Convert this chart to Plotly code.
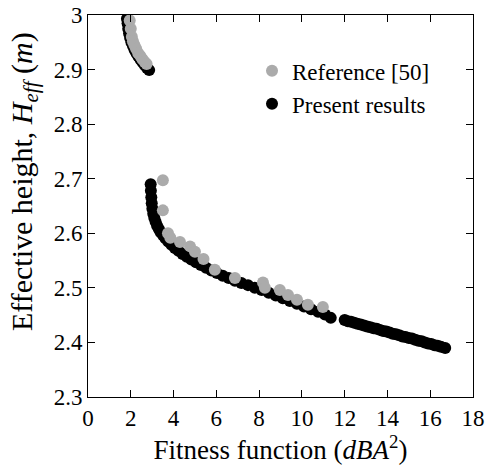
import plotly.graph_objects as go

# Present results (black)
present_x = [1.82, 1.85, 1.88, 1.92, 1.97, 2.03, 2.10, 2.18, 2.27, 2.36, 2.46, 2.56, 2.66, 2.76, 2.86,
             2.93, 2.94, 2.96, 2.98, 3.01, 3.05, 3.10, 3.16, 3.23, 3.31, 3.40, 3.50, 3.62, 3.75, 3.90,
             4.06, 4.23, 4.42, 4.62, 4.83, 5.05, 5.28, 5.52, 5.77, 6.03, 6.30, 6.58, 6.87, 7.17, 7.48,
             7.80, 8.12, 8.45, 8.78, 9.11, 9.44, 9.77, 10.10, 10.43, 10.76, 11.08, 11.35,
             12.00, 12.15, 12.30, 12.45, 12.60, 12.75, 12.90, 13.05, 13.20, 13.35, 13.50, 13.65, 13.80,
             13.95, 14.10, 14.25, 14.40, 14.55, 14.70, 14.85, 15.00, 15.15, 15.30, 15.45, 15.60, 15.75,
             15.90, 16.05, 16.20, 16.35, 16.50, 16.70]
present_y = [2.993, 2.985, 2.975, 2.966, 2.958, 2.950, 2.943, 2.936, 2.930, 2.924, 2.918, 2.913, 2.908, 2.903, 2.899,
             2.690, 2.678, 2.666, 2.655, 2.645, 2.636, 2.628, 2.621, 2.614, 2.608, 2.602, 2.597, 2.591, 2.585, 2.579,
             2.573, 2.568, 2.562, 2.557, 2.552, 2.547, 2.542, 2.537, 2.532, 2.527, 2.522, 2.518, 2.513, 2.509, 2.505,
             2.500, 2.496, 2.491, 2.486, 2.481, 2.476, 2.471, 2.466, 2.461, 2.456, 2.451, 2.445,
             2.441, 2.439, 2.438, 2.436, 2.434, 2.433, 2.431, 2.429, 2.428, 2.426, 2.425, 2.423, 2.421,
             2.420, 2.418, 2.416, 2.415, 2.413, 2.411, 2.410, 2.408, 2.407, 2.405, 2.403, 2.402, 2.400,
             2.398, 2.397, 2.395, 2.394, 2.392, 2.390]

# Reference [50] (grey)
ref_x = [1.95, 2.00, 2.05, 2.10, 2.17, 2.25, 2.35, 2.45, 2.55, 2.65, 2.74,
         3.50, 3.50, 3.74, 3.85, 4.30, 4.77, 5.00, 5.40, 5.93, 6.87, 8.18, 8.27, 8.97, 9.35, 9.77,
         10.28, 10.98]
ref_y = [2.990, 2.975, 2.960, 2.952, 2.945, 2.938, 2.930, 2.925, 2.919, 2.914, 2.910,
         2.697, 2.642, 2.600, 2.592, 2.584, 2.576, 2.566, 2.553, 2.533, 2.518, 2.510, 2.500, 2.496, 2.487, 2.478,
         2.469, 2.465]

x_ticks = [0, 2, 4, 6, 8, 10, 12, 14, 16, 18]
y_ticks = [2.3, 2.4, 2.5, 2.6, 2.7, 2.8, 2.9, 3.0]
y_tick_text = ["2.3", "2.4", "2.5", "2.6", "2.7", "2.8", "2.9", "3"]

FONT = "Liberation Serif"

fig = go.Figure()
fig.add_trace(go.Scatter(x=present_x, y=present_y, mode="markers", name="Present results",
                         legendrank=2,
                         marker=dict(color="black", size=12, line=dict(width=0))))
fig.add_trace(go.Scatter(x=ref_x, y=ref_y, mode="markers", name="Reference [50]",
                         legendrank=1,
                         marker=dict(color="#ababab", size=12, line=dict(width=0))))

axis_common = dict(showline=True, linecolor="black", linewidth=1, mirror="ticks",
                   ticks="inside", ticklen=7, tickcolor="black", tickwidth=1,
                   showgrid=False, zeroline=False, automargin=False,
                   ticklabeloverflow="allow",
                   tickfont=dict(family=FONT, size=23, color="black"))

fig.update_xaxes(range=[0, 18], tickvals=x_ticks,
                 title=dict(text="Fitness function (<i>dBA</i><sup>2</sup>)",
                            font=dict(family=FONT, size=27, color="black"), standoff=2),
                 **axis_common)
fig.update_yaxes(range=[2.3, 3.0], tickvals=y_ticks, ticktext=y_tick_text,
                 **axis_common)

# y-axis title (placed slightly above the axis centre, as in the reference)
fig.add_annotation(text="Effective height, <i>H<sub>eff</sub></i> (<i>m</i>)",
                   xref="paper", yref="paper", x=-0.166, y=0.563,
                   xanchor="center", yanchor="middle", textangle=-90, showarrow=False,
                   font=dict(family=FONT, size=30, color="black"))

fig.update_layout(
    width=486, height=475,
    margin=dict(l=88, r=13, t=15, b=78),
    plot_bgcolor="white", paper_bgcolor="white",
    font=dict(family=FONT, color="black"),
    legend=dict(x=0.426, y=0.91, xanchor="left", yanchor="top",
                bgcolor="rgba(0,0,0,0)", font=dict(family=FONT, size=23, color="black"),
                itemsizing="constant"),
)

fig.write_html("out.html", config={"displayModeBar": False},
               post_script="document.body.style.margin='0';")
